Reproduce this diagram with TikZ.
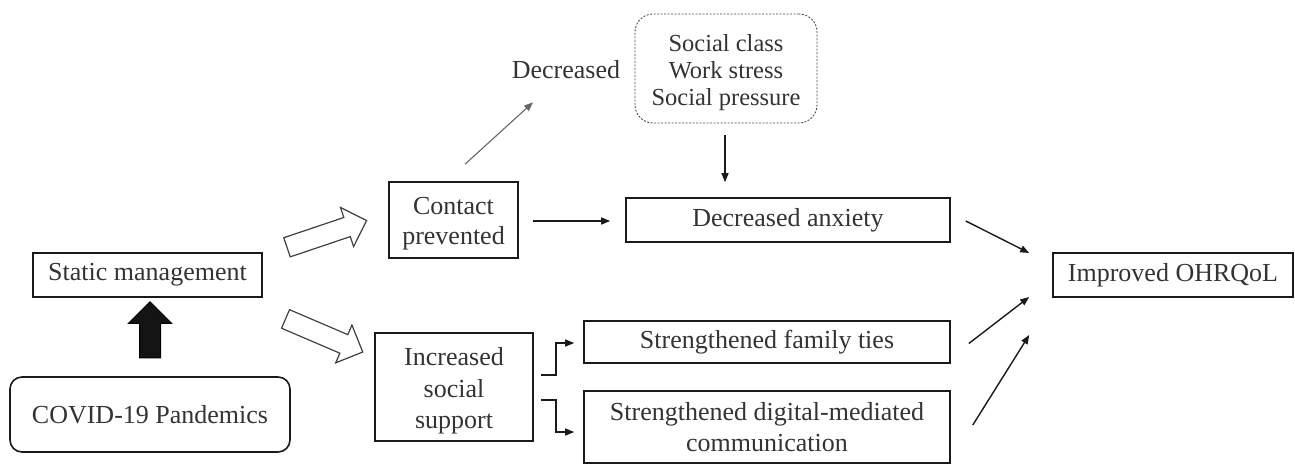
\documentclass[tikz,border=0pt]{standalone}
\usepackage{fontspec}
\setmainfont{Liberation Serif}
\usetikzlibrary{arrows.meta,shapes.arrows,calc}
\definecolor{txt}{HTML}{333333}
\definecolor{edge}{HTML}{1A1A1A}
\begin{document}
\begin{tikzpicture}[x=1pt,y=-1pt,
  box/.style={draw=edge, line width=1.6pt, inner sep=0pt, align=center,
    font=\fontsize{26}{30}\selectfont, text=txt},
  plain/.style={inner sep=0pt, align=center, font=\fontsize{26}{30}\selectfont, text=txt},
  arr/.style={draw=edge, line width=1.4pt, -{Triangle[length=9pt,width=7pt]}},
  thinarr/.style={draw=black!60, line width=1.1pt, -{Triangle[length=9pt,width=7pt]}},
  hollow/.style={single arrow, draw=black!75, fill=white, line width=1.2pt,
    inner sep=9.5pt, single arrow head extend=10.5pt, single arrow head indent=0pt,
    minimum height=84pt},
  solidarr/.style={single arrow, draw=black, fill=black!92, line width=1pt,
    inner sep=10pt, single arrow head extend=11pt, minimum height=56pt}
]
\useasboundingbox (0,0) rectangle (1295,465);

\node[box, minimum width=229pt, minimum height=44pt] (static) at (147.5,275) {Static management};
\node[box, rounded corners=12pt, minimum width=280pt, minimum height=75pt] (covid) at (150,414.5) {COVID-19 Pandemics};
\node[box, minimum width=129pt, minimum height=76pt] (contact) at (453.5,220) {\rule{0pt}{25pt}Contact\\prevented};
\node[box, minimum width=158pt, minimum height=108pt, font=\fontsize{26}{31.5}\selectfont] (incr) at (454,387) {\rule{0pt}{26pt}Increased\\social\\support};
\node[box, minimum width=324pt, minimum height=44pt] (anx) at (788,220) {Decreased anxiety};
\node[box, draw=black!70, line width=0.9pt, dash pattern=on 2pt off 1.5pt, rounded corners=18pt,
  minimum width=182pt, minimum height=109pt, font=\fontsize{24.5}{27}\selectfont] (fact) at (726,68.5)
  {\rule{0pt}{25pt}Social class\\Work stress\\Social pressure};
\node[plain] (decr) at (566,70) {Decreased};
\node[box, minimum width=366pt, minimum height=42pt] (fam) at (767,342) {Strengthened family ties};
\node[box, minimum width=366pt, minimum height=72pt, font=\fontsize{26}{31}\selectfont] (dig) at (767,427) {Strengthened digital-mediated\\communication};
\node[box, minimum width=240pt, minimum height=44pt] (ohr) at (1173,275) {Improved OHRQoL};

% block arrows
\node[solidarr, rotate=90] (up) at (150,335) {};
\node[hollow, rotate=18.6] (hup) at (322,235.5) {};
\node[hollow, rotate=-23.2] (hdown) at (319.5,333.5) {};

% connectors
\coordinate (d1) at ($(contact.north)+(11.5,-17)$);
\coordinate (d2) at ($(decr.south)+(-33,23)$);
\draw[thinarr] (d1) -- (d2);
\draw[arr] ($(fact.south)+(-1,12)$) -- ($(anx.north)+(-63,-15)$);
\draw[arr] ($(contact.east)+(14,1)$) -- ($(anx.west)+(-15,1)$);

\draw[arr] ($(incr.east)+(7,-12)$) -- ++(15,0) |- ($(fam.west)+(-9,1)$);
\draw[arr] ($(incr.east)+(7,13)$) -- ++(15,0) |- ($(dig.west)+(-9,5)$);

\draw[arr] ($(anx.east)+(15,1)$) -- ($(ohr.west)+(-23,-22)$);
\draw[arr] ($(fam.east)+(18,1.5)$) -- ($(ohr.west)+(-23,22)$);
\draw[arr] ($(dig.east)+(22,-2)$) -- ($(ohr.west)+(-23,60)$);
\end{tikzpicture}
\end{document}
